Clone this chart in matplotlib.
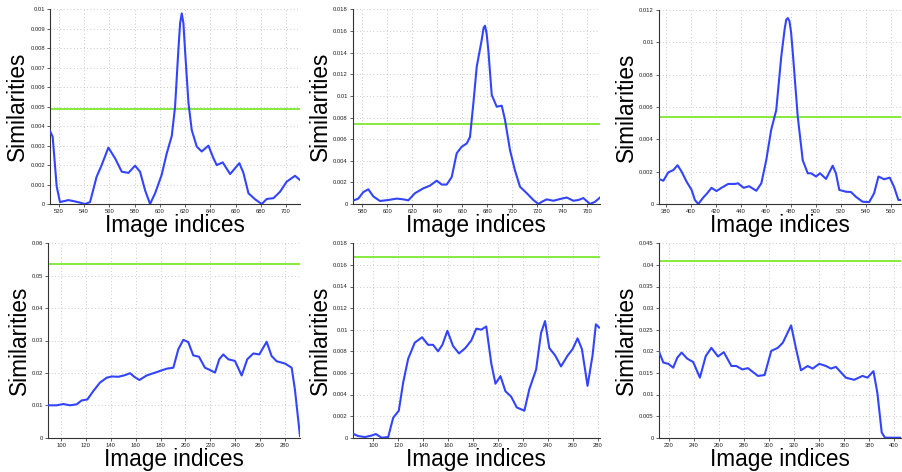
import matplotlib
matplotlib.use("Agg")
import matplotlib.pyplot as plt
from matplotlib.ticker import MultipleLocator, FuncFormatter

plt.rcParams['font.family'] = ['Liberation Sans', 'DejaVu Sans']

# ---- Panel 1 ----
x1 = [513.1, 515.2, 518.4, 521.0, 527.7, 531.6, 536.9, 540.8, 544.8, 550.0, 554.0, 559.3, 564.6, 569.9,
      575.2, 580.4, 584.4, 588.4, 592.3, 596.3, 601.5, 605.5, 609.5, 612.1, 614.7, 616.1, 617.4, 618.7,
      620.0, 622.7, 625.3, 629.3, 633.2, 638.5, 642.5, 645.1, 649.8, 655.7, 663.0, 666.2, 670.2, 675.5,
      680.7, 684.7, 690.0, 695.2, 700.5, 707.1, 711.0]
y1 = [0.00375, 0.00346, 0.0009, 0.0001, 0.0002, 0.00015, 0.00007, 0.0, 0.0001, 0.0014, 0.002, 0.0029,
      0.00235, 0.00166, 0.0016, 0.00197, 0.00166, 0.0007, 0.0, 0.00055, 0.0015, 0.0026, 0.0035, 0.005,
      0.0079, 0.0093, 0.0098, 0.0093, 0.0079, 0.0052, 0.0038, 0.00295, 0.0027, 0.003, 0.00235, 0.002,
      0.00214, 0.00154, 0.0021, 0.0016, 0.00055, 0.00024, 0.0, 0.00026, 0.0003, 0.00063, 0.00115,
      0.00145, 0.00123]
thr1 = 0.0049

# ---- Panel 2 ----
x2 = [572.3, 576.8, 580.8, 584.8, 588.8, 594.1, 600.8, 607.5, 612.8, 616.8, 622.1, 628.8, 634.1, 639.5,
      643.5, 647.5, 651.5, 655.5, 659.5, 663.5, 666.1, 668.8, 671.5, 675.5, 677.0, 678.1, 679.4, 680.8,
      683.5, 687.5, 691.5, 694.1, 698.1, 702.1, 706.1, 711.5, 716.8, 720.8, 723.5, 727.5, 732.8, 738.1,
      743.5, 748.8, 752.8, 756.8, 762.1, 766.1, 770.1]
y2 = [0.0003, 0.0005, 0.0011, 0.00136, 0.0007, 0.00028, 0.00037, 0.0005, 0.00043, 0.00034, 0.001,
      0.00145, 0.0017, 0.00216, 0.0018, 0.0018, 0.0025, 0.0047, 0.0053, 0.0056, 0.0062, 0.0093, 0.0127,
      0.0152, 0.0163, 0.0165, 0.0158, 0.0142, 0.0101, 0.009, 0.0091, 0.0078, 0.005, 0.0031, 0.0016,
      0.001, 0.00037, 0.0, 0.0002, 0.00043, 0.0003, 0.00046, 0.0006, 0.0003, 0.00037, 0.00055, 0.0,
      0.0002, 0.0006]
thr2 = 0.0074

# ---- Panel 3 ----
x3 = [374.4, 378.1, 382.1, 386.1, 389.5, 392.7, 396.7, 400.7, 403.3, 406.0, 410.0, 413.1, 416.6, 420.6,
      424.5, 429.9, 435.2, 437.8, 442.3, 446.6, 452.4, 456.4, 460.3, 464.3, 468.3, 472.3, 475.0, 476.3,
      477.6, 478.9, 480.2, 481.6, 485.5, 489.5, 493.5, 496.2, 500.1, 503.3, 508.1, 513.4, 516.0, 518.7,
      524.0, 528.0, 531.9, 537.3, 542.6, 546.5, 550.0, 554.5, 559.0, 562.4, 565.9, 568.0]
y3 = [0.00155, 0.00144, 0.00196, 0.0021, 0.0024, 0.002, 0.00138, 0.00087, 0.00025, 0.0, 0.0004,
      0.00066, 0.001, 0.0008, 0.001, 0.00124, 0.00124, 0.00128, 0.001, 0.0011, 0.00082, 0.00128, 0.0027,
      0.0046, 0.0058, 0.0091, 0.0108, 0.0114, 0.0115, 0.0113, 0.0106, 0.0093, 0.0054, 0.0027, 0.0019,
      0.0019, 0.0017, 0.0019, 0.00155, 0.00237, 0.0019, 0.00087, 0.00076, 0.00074, 0.00045, 0.00014,
      0.00012, 0.00066, 0.0017, 0.00153, 0.00163, 0.00107, 0.00025, 0.00025]
thr3 = 0.0054

# ---- Panel 4 ----
x4 = [89.8, 96.5, 101.9, 107.2, 112.6, 116.6, 121.2, 126.0, 131.3, 136.7, 140.7, 146.1, 151.4, 155.5,
      158.9, 163.0, 168.8, 174.2, 179.6, 184.9, 190.3, 194.3, 198.3, 202.3, 206.3, 210.9, 215.7, 219.7,
      223.8, 227.2, 230.4, 234.5, 239.8, 245.2, 249.7, 254.6, 259.4, 265.3, 269.3, 273.3, 280.0, 285.4,
      288.0, 292.1]
y4 = [0.01, 0.01, 0.0104, 0.01, 0.0103, 0.0115, 0.0118, 0.0144, 0.017, 0.0185, 0.0189, 0.0188, 0.0193,
      0.0199, 0.0188, 0.0178, 0.0192, 0.0199, 0.0206, 0.0213, 0.0216, 0.0273, 0.0302, 0.0295, 0.0254,
      0.025, 0.0216, 0.0209, 0.0201, 0.0242, 0.0257, 0.0242, 0.0237, 0.0192, 0.0242, 0.026, 0.0257,
      0.0296, 0.0252, 0.0236, 0.0229, 0.0216, 0.0149, 0.0005]
thr4 = 0.0535

# ---- Panel 5 ----
x5 = [83.5, 88.0, 93.3, 98.7, 102.1, 106.7, 112.0, 116.0, 120.5, 124.0, 128.0, 133.3, 139.2, 144.0,
      148.0, 152.0, 155.5, 159.5, 164.0, 168.8, 173.9, 178.7, 182.7, 186.7, 190.7, 194.7, 198.1, 202.1,
      206.1, 210.7, 215.2, 221.3, 225.3, 230.7, 234.7, 237.9, 241.3, 246.1, 250.7, 256.0, 260.0, 264.0,
      267.5, 272.0, 276.0, 278.7, 281.3]
y5 = [0.00037, 0.00015, 0.00006, 0.0002, 0.00034, 0.0, 0.00006, 0.00185, 0.0025, 0.0051, 0.0073,
      0.0088, 0.0093, 0.0086, 0.0086, 0.008, 0.0086, 0.0099, 0.0085, 0.0078, 0.0083, 0.009, 0.0101, 0.01,
      0.0103, 0.0069, 0.005, 0.0057, 0.0043, 0.0038, 0.0028, 0.0025, 0.0045, 0.0063, 0.0097, 0.0108,
      0.0083, 0.0076, 0.0066, 0.0076, 0.0082, 0.0092, 0.0082, 0.0048, 0.0076, 0.0105, 0.0102]
thr5 = 0.01677

# ---- Panel 6 ----
x6 = [211.8, 215.5, 219.5, 223.4, 226.6, 230.1, 234.6, 239.4, 244.7, 249.4, 253.9, 259.2, 263.8, 269.9,
      273.8, 278.6, 283.1, 291.1, 296.4, 301.7, 307.0, 311.0, 317.6, 321.6, 325.5, 330.8, 334.8, 340.1,
      345.4, 349.4, 353.4, 361.3, 368.0, 374.6, 378.6, 383.4, 386.5, 390.0, 392.6, 405.4]
y6 = [0.0201, 0.0174, 0.0171, 0.0162, 0.0185, 0.0197, 0.0183, 0.0175, 0.0139, 0.0189, 0.0208, 0.0188,
      0.0198, 0.0166, 0.0166, 0.0158, 0.0161, 0.0143, 0.0145, 0.0201, 0.0208, 0.022, 0.026, 0.0205,
      0.0156, 0.0166, 0.016, 0.0171, 0.0166, 0.016, 0.0164, 0.0139, 0.0134, 0.0143, 0.0139, 0.0154,
      0.0104, 0.0012, 0.0, 0.0]
thr6 = 0.0409

xlabel_text = "Image indices"
ylabel_text = "Similarities"

panels = [
    dict(x=x1, y=y1, thr=thr1, xlim=(513.1, 711.0), ylim=(0, 0.01), xstep=20, ystep=0.001,
         rect=[50, 9.5, 300, 204]),
    dict(x=x2, y=y2, thr=thr2, xlim=(572.3, 770.1), ylim=(0, 0.018), xstep=20, ystep=0.002,
         rect=[352.7, 9.5, 600, 204]),
    dict(x=x3, y=y3, thr=thr3, xlim=(374.4, 568.0), ylim=(0, 0.012), xstep=20, ystep=0.002,
         rect=[658.7, 10, 901, 204]),
    dict(x=x4, y=y4, thr=thr4, xlim=(89.8, 292.1), ylim=(0, 0.06), xstep=20, ystep=0.01,
         rect=[48.3, 243.3, 300, 437.7]),
    dict(x=x5, y=y5, thr=thr5, xlim=(83.5, 282.0), ylim=(0, 0.018), xstep=20, ystep=0.002,
         rect=[352.7, 243.3, 600, 437.7]),
    dict(x=x6, y=y6, thr=thr6, xlim=(211.8, 405.4), ylim=(0, 0.045), xstep=20, ystep=0.005,
         rect=[658.7, 243.3, 901, 437.7]),
]

W, H = 902, 472
fig = plt.figure(figsize=(W / 100, H / 100), dpi=100)

fmt = FuncFormatter(lambda v, p: "%g" % round(v, 6))

for p in panels:
    l, t, r, b = p['rect']
    ax = fig.add_axes([l / W, 1 - b / H, (r - l) / W, (b - t) / H])
    ax.plot(p['x'], p['y'], color='#3344ff', lw=1.5, solid_joinstyle='round', zorder=3)
    ax.axhline(p['thr'], color='#7de830', lw=1.3, zorder=2)
    ax.set_xlim(*p['xlim'])
    ax.set_ylim(*p['ylim'])
    ax.xaxis.set_major_locator(MultipleLocator(p['xstep']))
    ax.yaxis.set_major_locator(MultipleLocator(p['ystep']))
    ax.yaxis.set_major_formatter(fmt)
    ax.xaxis.set_major_formatter(fmt)
    ax.grid(True, linestyle=(0, (1, 3)), color='#b8b8b8', lw=0.6)
    for s in ['top', 'right']:
        ax.spines[s].set_visible(False)
    for s in ['left', 'bottom']:
        ax.spines[s].set_color('#333333')
        ax.spines[s].set_linewidth(0.8)
    ax.tick_params(labelsize=4.2, length=2, width=0.5, pad=1.5, colors='#222222')
    ax.set_xlabel(xlabel_text, fontsize=16.3, labelpad=0)
    ax.set_ylabel(ylabel_text, fontsize=16.3, labelpad=1)

fig.savefig("out.png", dpi=100)
